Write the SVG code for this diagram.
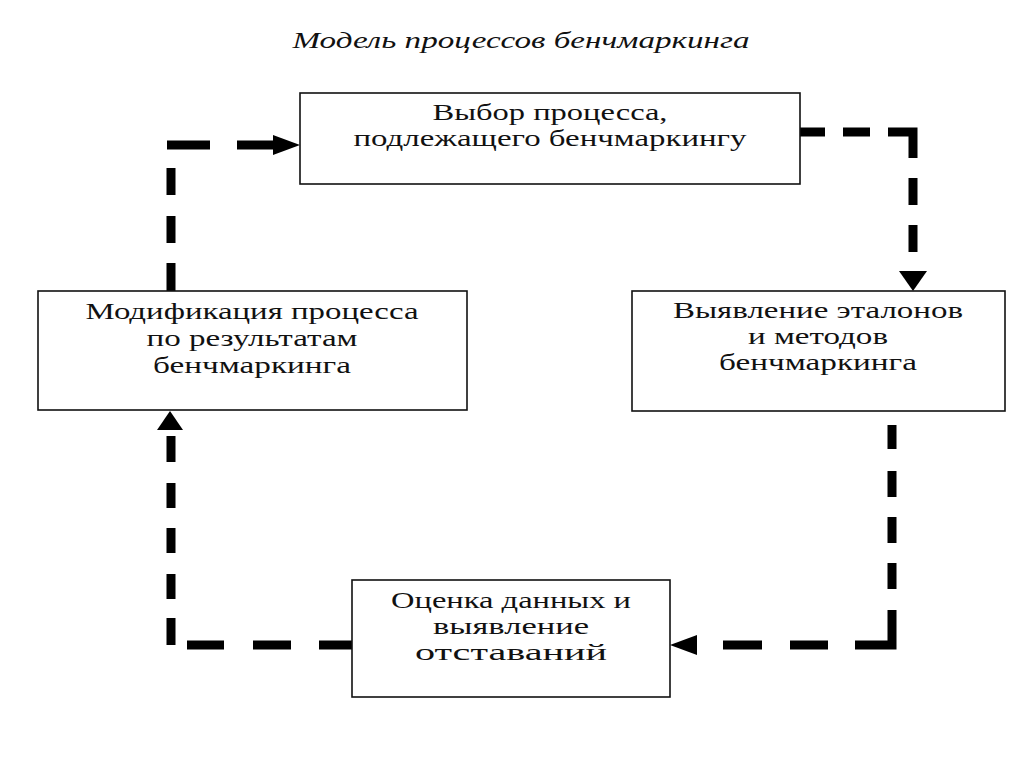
<svg xmlns="http://www.w3.org/2000/svg" width="1024" height="767" viewBox="0 0 1024 767">
<style>
.box{fill:#fff;stroke:#111;stroke-width:1.6}
.t{font-family:"Liberation Serif","Times New Roman",serif;font-size:24px;fill:#111;text-anchor:middle}
.title{font-family:"Liberation Serif","Times New Roman",serif;font-size:23px;font-style:italic;fill:#111;text-anchor:middle}
.conn{fill:none;stroke:#000;stroke-width:9;stroke-linecap:butt;stroke-linejoin:miter}
.head{fill:#000}
</style>
<rect width="1024" height="767" fill="#fff"/>
<text class="title" x="521" y="48" textLength="457" lengthAdjust="spacingAndGlyphs">Модель процессов бенчмаркинга</text>

<g id="connectors">
  <path id="c-mod-to-select" class="conn" d="M171,291 L171,263 M171,243 L171,216 M171,195 L171,168 M167,145 L210,145 M237,145 L274,145"/>
  <polygon class="head" points="300,145 273,135 273,155"/>
  <path id="c-select-to-ident" class="conn" d="M800,132 L825,132 M843,132 L870,132 M888,132 L913,132 L913,158 M913,178 L913,205 M913,225 L913,252"/>
  <polygon class="head" points="913,291 899,271 927,271"/>
  <path id="c-ident-to-eval" class="conn" d="M892,425 L892,449 M892,471 L892,497 M892,517 L892,543 M892,563 L892,589 M892,610 L892,645 L855,645 M828,645 L790,645 M762,645 L723,645"/>
  <polygon class="head" points="670,645 697,635 697,655"/>
  <path id="c-eval-to-mod" class="conn" d="M352,645 L319,645 M291,645 L253,645 M224,645 L187,645 M171,645 L171,618 M171,599 L171,574 M171,553 L171,528 M171,508 L171,483 M171,462 L171,436"/>
  <polygon class="head" points="170,411 157,430 183,430"/>
</g>

<g id="node-select">
  <rect class="box" x="300" y="93" width="500" height="91"/>
  <text class="t" x="550" y="120" textLength="235" lengthAdjust="spacingAndGlyphs">Выбор процесса,</text>
  <text class="t" x="550" y="146" textLength="393" lengthAdjust="spacingAndGlyphs">подлежащего бенчмаркингу</text>
</g>

<g id="node-modify">
  <rect class="box" x="38" y="291" width="429" height="119"/>
  <text class="t" x="252" y="319" textLength="333" lengthAdjust="spacingAndGlyphs">Модификация процесса</text>
  <text class="t" x="252" y="346" textLength="211" lengthAdjust="spacingAndGlyphs">по результатам</text>
  <text class="t" x="252" y="373" textLength="198" lengthAdjust="spacingAndGlyphs">бенчмаркинга</text>
</g>

<g id="node-identify">
  <rect class="box" x="632" y="291" width="373" height="120"/>
  <text class="t" x="818" y="318" textLength="290" lengthAdjust="spacingAndGlyphs">Выявление эталонов</text>
  <text class="t" x="818" y="344" textLength="140" lengthAdjust="spacingAndGlyphs">и методов</text>
  <text class="t" x="818" y="370" textLength="198" lengthAdjust="spacingAndGlyphs">бенчмаркинга</text>
</g>

<g id="node-evaluate">
  <rect class="box" x="352" y="580" width="318" height="117"/>
  <text class="t" x="511" y="608" textLength="240" lengthAdjust="spacingAndGlyphs">Оценка данных и</text>
  <text class="t" x="511" y="634" textLength="156" lengthAdjust="spacingAndGlyphs">выявление</text>
  <text class="t" x="511" y="660" textLength="192" lengthAdjust="spacingAndGlyphs">отставаний</text>
</g>
</svg>
